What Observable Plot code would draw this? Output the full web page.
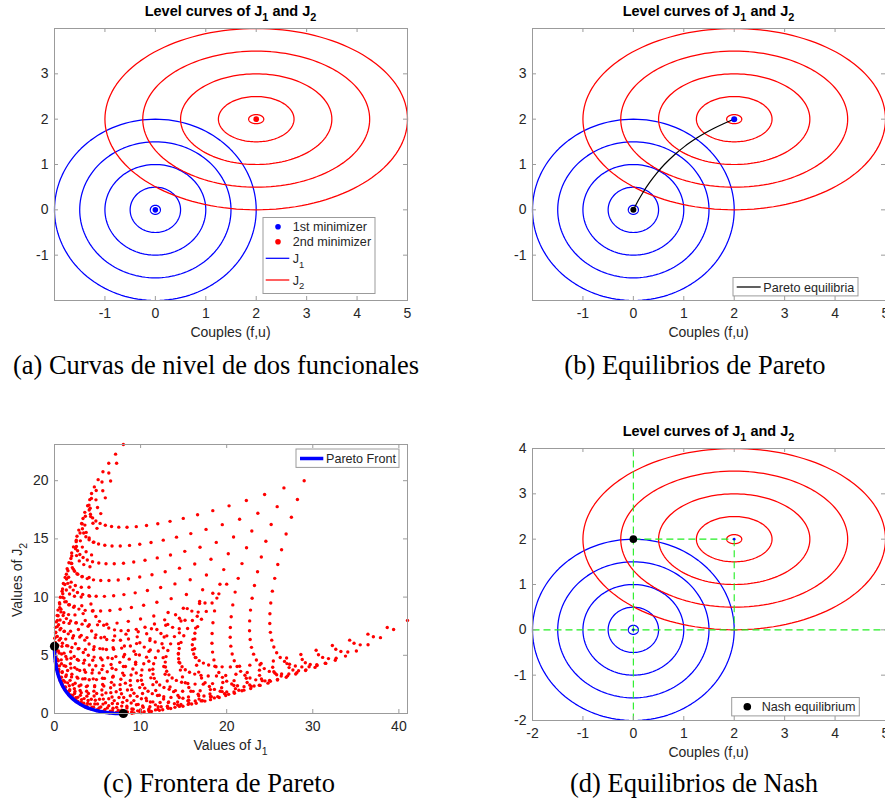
<!DOCTYPE html>
<html><head><meta charset="utf-8">
<script src="https://cdn.jsdelivr.net/npm/d3@7"></script>
<script src="https://cdn.jsdelivr.net/npm/@observablehq/plot@0.6"></script>
<style>
html,body{margin:0;padding:0;background:#fff;overflow:hidden;}
#root{position:relative;width:885px;height:798px;overflow:hidden;background:#fff;}
</style></head><body><div id="root"></div>
<script>
// ---------- data ----------
const levelX = [-2, 5];
const levelY = [-2, 4];
const xTicksAB = [-1, 0, 1, 2, 3, 4, 5];
const yTicksAB = [-1, 0, 1, 2, 3];
const xTicksD = [-2, -1, 0, 1, 2, 3, 4, 5];
const yTicksD = [-2, -1, 0, 1, 2, 3, 4];
const levelRadii = [0.1, 0.5, 1, 1.5, 2];     // level-curve radii (vertical semi-axis)
const j1Center = [0, 0];                        // 1st minimizer
const j2Center = [2, 2];                        // 2nd minimizer
const j1Stretch = 1;                            // J1 curves are circles
const j2Stretch = 1.5;                          // J2 curves: horizontal / vertical semi-axis
// Pareto equilibria (f,u)
const paretoF = [0, 0.046, 0.094, 0.2, 0.32, 0.457, 0.615, 0.8, 1.018, 1.143, 1.28, 1.432, 1.6, 1.788, 1.912, 2];
const paretoU = [0, 0.1, 0.2, 0.4, 0.6, 0.8, 1.0, 1.2, 1.4, 1.5, 1.6, 1.7, 1.8, 1.9, 1.96, 2];
// Pareto front (J1,J2)
const frontJ1 = [0, 0.012, 0.049, 0.2, 0.462, 0.849, 1.378, 2.08, 2.996, 3.556, 4.198, 4.94, 5.8, 6.807, 7.498, 8];
const frontJ2 = [5.778, 5.307, 4.855, 4.0, 3.214, 2.498, 1.852, 1.28, 0.789, 0.576, 0.39, 0.233, 0.111, 0.03, 0.005, 0];
// sampled couples (f,u) whose (J1,J2) values form the cloud of panel (c)
const fGrid = [-2, -1.759, -1.517, -1.276, -1.034, -0.793, -0.552, -0.310, -0.069, 0.172, 0.414, 0.655, 0.897, 1.138, 1.379, 1.621, 1.862, 2.103, 2.345, 2.586, 2.828, 3.069, 3.310, 3.552, 3.793, 4.034, 4.276, 4.517, 4.759, 5];
const uGrid = [-2, -1.793, -1.586, -1.379, -1.172, -0.966, -0.759, -0.552, -0.345, -0.138, 0.069, 0.276, 0.483, 0.690, 0.897, 1.103, 1.310, 1.517, 1.724, 1.931, 2.138, 2.345, 2.552, 2.759, 2.966, 3.172, 3.379, 3.586, 3.793, 4];
const frontX = [0, 41];
const frontY = [0, 23.11];
const xTicksC = [0, 10, 20, 30, 40];
const yTicksC = [0, 5, 10, 15, 20];
const nashPoint = [0, 2];
const nashGuides = [
  {x1: 0, y1: -2, x2: 0, y2: 4},
  {x1: -2, y1: 0, x2: 5, y2: 0},
  {x1: 0, y1: 2, x2: 2, y2: 2},
  {x1: 2, y1: 2, x2: 2, y2: 0}
];

// ---------- styles ----------
const BLUE = "#0000ff", RED = "#ff0000", GRAY = "#9b9b9b", INK = "#262626", GREEN = "#22ee22";
const SANS = "Liberation Sans, Arial, Helvetica, sans-serif";
const SERIF = "Liberation Serif, Times New Roman, Times, serif";
const root = document.getElementById("root");

// ---------- derived tables ----------
function levelRings(center, stretch, id) {
  const pts = [];
  levelRadii.forEach((r, i) => {
    for (let k = 0; k <= 144; k++) {
      const a = 2 * Math.PI * k / 144;
      pts.push({ring: id + i, x: center[0] + stretch * r * Math.cos(a), y: center[1] + r * Math.sin(a)});
    }
  });
  return pts;
}
const j1Rings = levelRings(j1Center, j1Stretch, "J1-");
const j2Rings = levelRings(j2Center, j2Stretch, "J2-");
const pareto = paretoF.map((f, i) => ({f, u: paretoU[i]}));
const front = frontJ1.map((a, i) => ({j1: a, j2: frontJ2[i]}));
const J1 = (f, u) => (f - j1Center[0]) ** 2 + (u - j1Center[1]) ** 2;
const J2 = (f, u) => ((f - j2Center[0]) / j2Stretch) ** 2 + (u - j2Center[1]) ** 2;
const cloud = [];
for (const f of fGrid) for (const u of uGrid) cloud.push({j1: J1(f, u), j2: J2(f, u)});
const pt = p => ({x: p[0], y: p[1]});

function frameTicks(xt, yt, fw, fh) {
  const len = 4, s = {stroke: GRAY, strokeWidth: 1};
  return [
    Plot.frame({stroke: GRAY, strokeWidth: 1}),
    Plot.ruleX(xt, {x: d => d, insetTop: fh - len, ...s}),
    Plot.ruleX(xt, {x: d => d, insetBottom: fh - len, ...s}),
    Plot.ruleY(yt, {y: d => d, insetRight: fw - len, ...s}),
    Plot.ruleY(yt, {y: d => d, insetLeft: fw - len, ...s})
  ];
}
const plotStyle = {fontFamily: SANS, fontSize: "14px", color: INK, background: "transparent", overflow: "visible"};

function place(svg, left, top) {
  svg.style.position = "absolute";
  svg.style.left = left + "px";
  svg.style.top = top + "px";
  root.appendChild(svg);
}

function levelPlot(xt, yt, extra) {
  const W = 442, H = 322, ml = 54, mr = 35, mt = 28, mb = 22;
  return Plot.plot({
    width: W, height: H, marginLeft: ml, marginRight: mr, marginTop: mt, marginBottom: mb,
    x: {domain: levelX, ticks: xt, tickSize: 0, tickPadding: 8, tickFormat: d => String(d), label: null},
    y: {domain: levelY, ticks: yt, tickSize: 0, tickPadding: 6, tickFormat: d => String(d), label: null},
    style: plotStyle,
    marks: [
      Plot.line(j1Rings, {x: "x", y: "y", z: "ring", stroke: BLUE, strokeWidth: 1.25}),
      Plot.line(j2Rings, {x: "x", y: "y", z: "ring", stroke: RED, strokeWidth: 1.25}),
      ...extra,
      ...frameTicks(xt, yt, W - ml - mr, H - mt - mb)
    ]
  });
}

// (a)
place(levelPlot(xTicksAB, yTicksAB, [
  Plot.dot([pt(j1Center)], {x: "x", y: "y", r: 2.8, fill: BLUE}),
  Plot.dot([pt(j2Center)], {x: "x", y: "y", r: 2.8, fill: RED})
]), 0, 0);

// (b)
place(levelPlot(xTicksAB, yTicksAB, [
  Plot.line(pareto, {x: "f", y: "u", stroke: "#000", strokeWidth: 1.2, curve: "catmull-rom"}),
  Plot.dot([pt(j1Center)], {x: "x", y: "y", r: 3, fill: "#000"}),
  Plot.dot([pt(j2Center)], {x: "x", y: "y", r: 3, fill: BLUE})
]), 478, 0);

// (d)
place(levelPlot(xTicksD, yTicksD, [
  Plot.link(nashGuides, {x1: "x1", y1: "y1", x2: "x2", y2: "y2", stroke: GREEN, strokeWidth: 1.1, strokeDasharray: "7,4"}),
  Plot.dot([pt(j1Center), pt(j2Center)], {x: "x", y: "y", r: 1.3, fill: BLUE}),
  Plot.dot([pt(nashPoint)], {x: "x", y: "y", r: 3.8, fill: "#000"})
]), 478, 420);

// (c)
{
  const W = 442, H = 319, ml = 54, mr = 35, mt = 28, mb = 22;
  place(Plot.plot({
    width: W, height: H, marginLeft: ml, marginRight: mr, marginTop: mt, marginBottom: mb,
    x: {domain: frontX, ticks: xTicksC, tickSize: 0, tickPadding: 8, tickFormat: d => String(d), label: null},
    y: {domain: frontY, ticks: yTicksC, tickSize: 0, tickPadding: 6, tickFormat: d => String(d), label: null},
    style: plotStyle,
    marks: [
      Plot.dot(cloud, {x: "j1", y: "j2", r: 1.7, fill: RED}),
      Plot.line(front, {x: "j1", y: "j2", stroke: BLUE, strokeWidth: 3.5, curve: "catmull-rom"}),
      Plot.dot([front[0], front[front.length - 1]], {x: "j1", y: "j2", r: 4.6, fill: "#000"}),
      ...frameTicks(xTicksC, yTicksC, W - ml - mr, H - mt - mb)
    ]
  }), 0, 416);
}

// ---------- text & legends overlay ----------
const ov = d3.create("svg").attr("width", 885).attr("height", 798)
  .style("position", "absolute").style("left", "0px").style("top", "0px").style("overflow", "visible");
root.appendChild(ov.node());

function txt(x, y, segs, o = {}) {
  const size = o.size || 14;
  const t = ov.append("text").attr("x", x).attr("y", y)
    .attr("font-family", o.family || SANS).attr("font-size", size)
    .attr("font-weight", o.weight || "normal").attr("fill", o.fill || INK)
    .attr("text-anchor", o.anchor || "start");
  if (o.rotate) t.attr("transform", `rotate(${o.rotate},${x},${y})`);
  let shift = 0;
  for (const s of segs) {
    if (typeof s === "string") {
      t.append("tspan").attr("dy", -shift).text(s); shift = 0;
    } else {
      const d = size * 0.36;
      t.append("tspan").attr("dy", d - shift).attr("font-size", size * 0.75).text(s.sub); shift = d;
    }
  }
  return t;
}
const titleSegs = ["Level curves of J", {sub: "1"}, " and J", {sub: "2"}];
txt(230.5, 15.7, titleSegs, {size: 14.5, weight: "bold", anchor: "middle", fill: "#000"});
txt(708.5, 15.7, titleSegs, {size: 14.5, weight: "bold", anchor: "middle", fill: "#000"});
txt(708.5, 436, titleSegs, {size: 14.5, weight: "bold", anchor: "middle", fill: "#000"});

txt(230.5, 337, ["Couples (f,u)"], {anchor: "middle"});
txt(708.5, 337, ["Couples (f,u)"], {anchor: "middle"});
txt(708.5, 757, ["Couples (f,u)"], {anchor: "middle"});
txt(230.5, 750, ["Values of J", {sub: "1"}], {anchor: "middle"});
txt(22, 580, ["Values of J", {sub: "2"}], {anchor: "middle", rotate: -90});

const capO = {family: SERIF, size: 26.5, anchor: "middle", fill: "#000"};
txt(216, 373.5, ["(a) Curvas de nivel de dos funcionales"], capO);
txt(695, 373.5, ["(b) Equilibrios de Pareto"], capO);
txt(219, 792, ["(c) Frontera de Pareto"], capO);
txt(694, 792, ["(d) Equilibrios de Nash"], capO);

function box(x, y, w, h) {
  ov.append("rect").attr("x", x).attr("y", y).attr("width", w).attr("height", h)
    .attr("fill", "#fff").attr("stroke", GRAY).attr("stroke-width", 1);
}
const LS = 12.6;
// legend (a)
box(263, 217.5, 112, 76);
ov.append("circle").attr("cx", 278).attr("cy", 226.7).attr("r", 2.8).attr("fill", BLUE);
txt(292.7, 231.2, ["1st minimizer"], {size: LS});
ov.append("circle").attr("cx", 278).attr("cy", 241.7).attr("r", 2.8).attr("fill", RED);
txt(292.7, 246.2, ["2nd minimizer"], {size: LS});
ov.append("line").attr("x1", 265.7).attr("x2", 289.3).attr("y1", 258.3).attr("y2", 258.3).attr("stroke", BLUE).attr("stroke-width", 1.25);
txt(292.7, 263, ["J", {sub: "1"}], {size: LS});
ov.append("line").attr("x1", 265.7).attr("x2", 289.3).attr("y1", 280).attr("y2", 280).attr("stroke", RED).attr("stroke-width", 1.25);
txt(292.7, 284.5, ["J", {sub: "2"}], {size: LS});
// legend (b)
box(733, 277.5, 125, 18.4);
ov.append("line").attr("x1", 736.7).attr("x2", 760.7).attr("y1", 287).attr("y2", 287).attr("stroke", "#000").attr("stroke-width", 1.25);
txt(763.3, 291.5, ["Pareto equilibria"], {size: LS});
// legend (c)
box(296, 449, 103, 18.4);
ov.append("line").attr("x1", 300).attr("x2", 323.3).attr("y1", 458.5).attr("y2", 458.5).attr("stroke", BLUE).attr("stroke-width", 3.5);
txt(326, 463, ["Pareto Front"], {size: LS});
// legend (d)
box(731.7, 697.5, 127.6, 18.4);
ov.append("circle").attr("cx", 747.3).attr("cy", 706.7).attr("r", 3.8).attr("fill", "#000");
txt(761.7, 711.2, ["Nash equilibrium"], {size: LS});
</script></body></html>
